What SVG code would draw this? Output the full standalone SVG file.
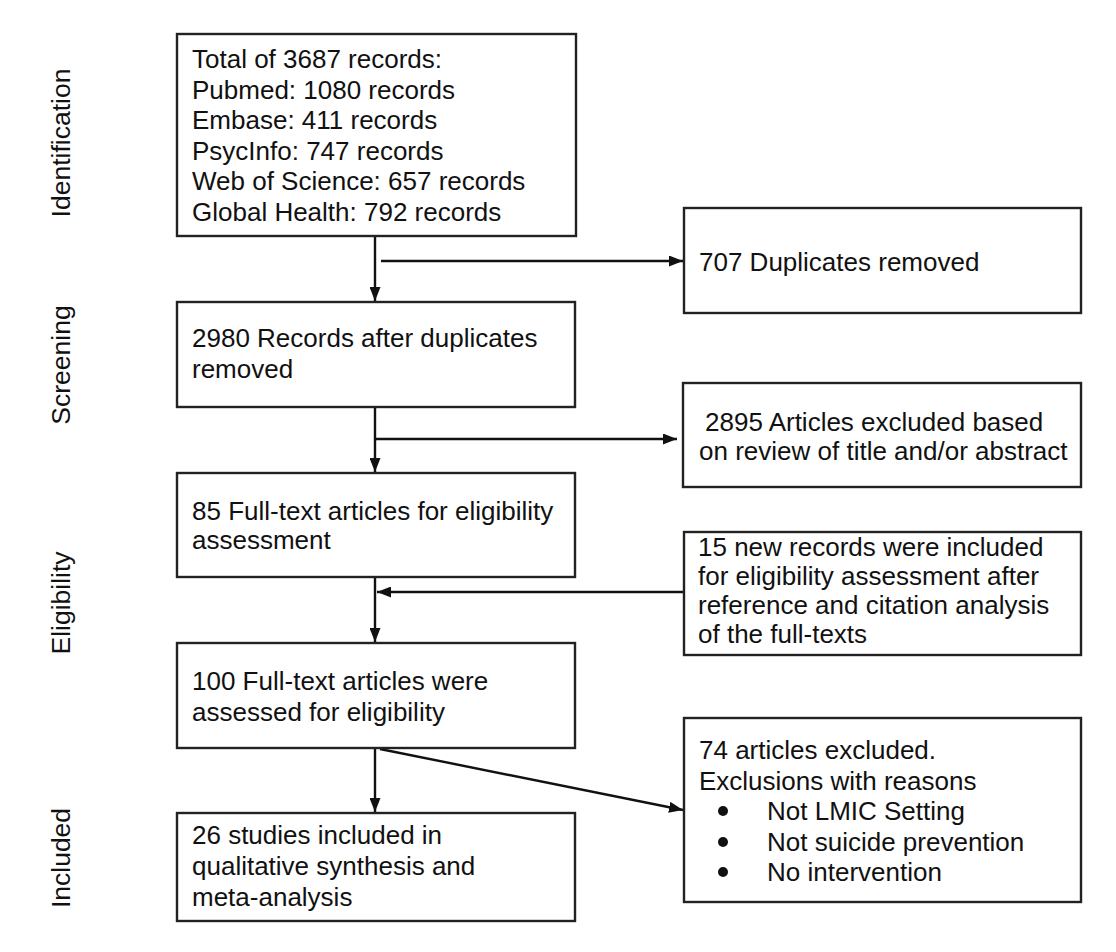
<svg xmlns="http://www.w3.org/2000/svg" width="1116" height="952" viewBox="0 0 1116 952">
<style>
.box{fill:#fff;stroke:#222;stroke-width:2.4}
text{font-family:"Liberation Sans",Arial,sans-serif;font-size:26px;fill:#111}
.side{font-size:26.5px}
.ln{stroke:#111;stroke-width:2.4;fill:none}
</style>
<defs>
<marker id="ah" viewBox="0 0 14 11" refX="14" refY="5.5" markerWidth="14" markerHeight="11" markerUnits="userSpaceOnUse" orient="auto">
<path d="M0,0 L14,5.5 L0,11 Z" fill="#111"/>
</marker>
</defs>
<rect width="1116" height="952" fill="#fff"/>
<g id="side-labels">
<text class="side" transform="translate(70,143) rotate(-90)" text-anchor="middle">Identification</text>
<text class="side" transform="translate(70,365) rotate(-90)" text-anchor="middle">Screening</text>
<text class="side" transform="translate(70,603) rotate(-90)" text-anchor="middle">Eligibility</text>
<text class="side" transform="translate(70,858) rotate(-90)" text-anchor="middle">Included</text>
</g>
<g id="connectors">
<line class="ln" x1="375" y1="236" x2="375" y2="301" marker-end="url(#ah)"/>
<line class="ln" x1="381" y1="261" x2="683" y2="261" marker-end="url(#ah)"/>
<line class="ln" x1="375" y1="407" x2="375" y2="472" marker-end="url(#ah)"/>
<line class="ln" x1="375" y1="439" x2="677" y2="439" marker-end="url(#ah)"/>
<line class="ln" x1="375" y1="577" x2="375" y2="642" marker-end="url(#ah)"/>
<line class="ln" x1="684" y1="592" x2="377" y2="592" marker-end="url(#ah)"/>
<line class="ln" x1="375" y1="748" x2="375" y2="812" marker-end="url(#ah)"/>
<line class="ln" x1="380" y1="749" x2="683" y2="810" marker-end="url(#ah)"/>
</g>
<g id="n-total">
<rect class="box" x="177" y="34" width="399" height="202"/>
<text x="192" y="68">Total of 3687 records:</text>
<text x="192" y="98.5">Pubmed: 1080 records</text>
<text x="192" y="129">Embase: 411 records</text>
<text x="192" y="159.5">PsycInfo: 747 records</text>
<text x="192" y="190">Web of Science: 657 records</text>
<text x="192" y="220.5">Global Health: 792 records</text>
</g>
<g id="n-duplicates">
<rect class="box" x="684" y="208" width="397" height="105"/>
<text x="699" y="271">707 Duplicates removed</text>
</g>
<g id="n-after-dup">
<rect class="box" x="177" y="302" width="398" height="105"/>
<text x="192" y="347">2980 Records after duplicates</text>
<text x="192" y="378">removed</text>
</g>
<g id="n-excluded-title">
<rect class="box" x="683" y="383" width="398" height="104"/>
<text x="705" y="431">2895 Articles excluded based</text>
<text x="699" y="460">on review of title and/or abstract</text>
</g>
<g id="n-fulltext85">
<rect class="box" x="177" y="473" width="398" height="104"/>
<text x="192" y="520">85 Full-text articles for eligibility</text>
<text x="192" y="549">assessment</text>
</g>
<g id="n-new-records">
<rect class="box" x="684" y="532" width="397" height="123"/>
<text x="698" y="556">15 new records were included</text>
<text x="698" y="585">for eligibility assessment after</text>
<text x="698" y="614">reference and citation analysis</text>
<text x="698" y="643">of the full-texts</text>
</g>
<g id="n-fulltext100">
<rect class="box" x="177" y="643" width="398" height="105"/>
<text x="192" y="690">100 Full-text articles were</text>
<text x="192" y="721">assessed for eligibility</text>
</g>
<g id="n-excluded74">
<rect class="box" x="684" y="718" width="397" height="184"/>
<text x="699" y="759">74 articles excluded.</text>
<text x="699" y="789.5">Exclusions with reasons</text>
<circle cx="723" cy="811" r="5" fill="#111"/>
<text x="767" y="820">Not LMIC Setting</text>
<circle cx="723" cy="842" r="5" fill="#111"/>
<text x="767" y="851">Not suicide prevention</text>
<circle cx="723" cy="872" r="5" fill="#111"/>
<text x="767" y="881">No intervention</text>
</g>
<g id="n-included">
<rect class="box" x="177" y="813" width="398" height="108"/>
<text x="192" y="844">26 studies included in</text>
<text x="192" y="875">qualitative synthesis and</text>
<text x="192" y="906">meta-analysis</text>
</g>
</svg>
